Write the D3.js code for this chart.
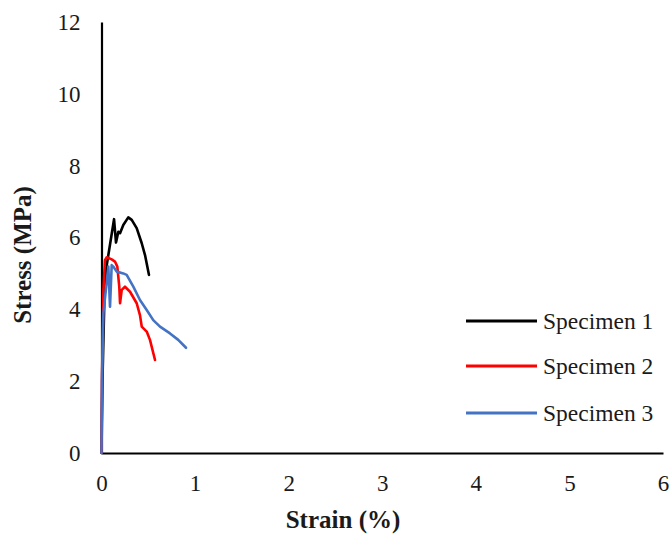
<!DOCTYPE html>
<html>
<head>
<meta charset="utf-8">
<script src="https://cdn.jsdelivr.net/npm/d3@7/dist/d3.min.js"></script>
<style>
  html, body { margin: 0; padding: 0; background: #fff; }
  svg { display: block; }
  text { font-family: "Liberation Serif", "Times New Roman", serif; fill: #1a1a1a; }
</style>
</head>
<body>
<svg id="chart" width="671" height="536"></svg>
<script>
// Stress–strain curves of three specimens (strain in %, stress in MPa)
const seriesNames = ["Specimen 1", "Specimen 2", "Specimen 3"];
const seriesColors = ["#000000", "#ff0000", "#4472c4"];

const specimen1Strain = [0, 0.01, 0.03, 0.045, 0.134, 0.155, 0.18, 0.198, 0.233, 0.286, 0.323, 0.376, 0.43, 0.465, 0.507];
const specimen1Stress = [0, 2.0, 4.2, 5.05, 6.51, 5.86, 6.16, 6.12, 6.35, 6.56, 6.49, 6.26, 5.84, 5.51, 4.96];

const specimen2Strain = [0, 0.005, 0.02, 0.037, 0.056, 0.109, 0.144, 0.169, 0.19, 0.198, 0.216, 0.251, 0.305, 0.376, 0.411, 0.43, 0.483, 0.518, 0.572];
const specimen2Stress = [0, 2.0, 4.5, 5.37, 5.45, 5.39, 5.33, 5.19, 4.63, 4.17, 4.54, 4.63, 4.49, 4.17, 3.84, 3.52, 3.38, 3.15, 2.59];

const specimen3Strain = [0, 0.005, 0.02, 0.073, 0.091, 0.109, 0.126, 0.162, 0.233, 0.269, 0.34, 0.411, 0.483, 0.553, 0.625, 0.732, 0.82, 0.903];
const specimen3Stress = [0, 2.0, 3.89, 5.19, 4.07, 5.23, 5.19, 5.05, 5.0, 4.96, 4.63, 4.26, 3.98, 3.70, 3.52, 3.33, 3.15, 2.93];

const xTicks = [0, 1, 2, 3, 4, 5, 6];
const yTicks = [0, 2, 4, 6, 8, 10, 12];

const series = [
  { name: seriesNames[0], color: seriesColors[0], x: specimen1Strain, y: specimen1Stress },
  { name: seriesNames[1], color: seriesColors[1], x: specimen2Strain, y: specimen2Stress },
  { name: seriesNames[2], color: seriesColors[2], x: specimen3Strain, y: specimen3Stress }
];

const svg = d3.select("#chart");
const plot = { left: 101.5, right: 663, top: 22, bottom: 453 };

const x = d3.scaleLinear().domain([0, 6]).range([plot.left, plot.right]);
const y = d3.scaleLinear().domain([0, 12]).range([plot.bottom, plot.top]);

// Axes: plain lines with labels, no tick marks
const xAxis = d3.axisBottom(x).tickValues(xTicks).tickSize(0).tickPadding(22).tickFormat(d3.format("d"));
const yAxis = d3.axisLeft(y).tickValues(yTicks).tickSize(0).tickPadding(21).tickFormat(d3.format("d"));

const gx = svg.append("g").attr("transform", `translate(0,${plot.bottom})`).call(xAxis);
const gy = svg.append("g").attr("transform", `translate(${plot.left},0)`).call(yAxis);

[gx, gy].forEach(g => {
  g.select(".domain").attr("stroke", "#000").attr("stroke-width", 2.2);
  g.selectAll(".tick text")
    .style("font-family", '"Liberation Serif", "Times New Roman", serif')
    .style("font-size", "23px")
    .attr("fill", "#222");
});
gx.selectAll(".tick text").attr("dy", "0.71em");

// Curves
const line = d3.line()
  .x(d => x(d[0]))
  .y(d => y(d[1]));

series.forEach(s => {
  const pts = s.x.map((v, i) => [v, s.y[i]]);
  svg.append("path")
    .datum(pts)
    .attr("fill", "none")
    .attr("stroke", s.color)
    .attr("stroke-width", 2.6)
    .attr("stroke-linejoin", "round")
    .attr("stroke-linecap", "round")
    .attr("d", line);
});

// Axis titles
svg.append("text")
  .attr("x", 343)
  .attr("y", 528)
  .attr("text-anchor", "middle")
  .style("font-size", "25px")
  .style("font-weight", "bold")
  .text("Strain (%)");

svg.append("text")
  .attr("transform", "translate(31,255) rotate(-90)")
  .attr("text-anchor", "middle")
  .style("font-size", "25px")
  .style("font-weight", "bold")
  .text("Stress (MPa)");

// Legend
const legend = svg.append("g");
const legendY = [321, 366, 413];
series.forEach((s, i) => {
  legend.append("line")
    .attr("x1", 466).attr("x2", 537)
    .attr("y1", legendY[i]).attr("y2", legendY[i])
    .attr("stroke", s.color)
    .attr("stroke-width", 2.8);
  legend.append("text")
    .attr("x", 543)
    .attr("y", legendY[i])
    .attr("dy", "0.33em")
    .style("font-size", "23.5px")
    .text(s.name);
});
</script>
</body>
</html>
